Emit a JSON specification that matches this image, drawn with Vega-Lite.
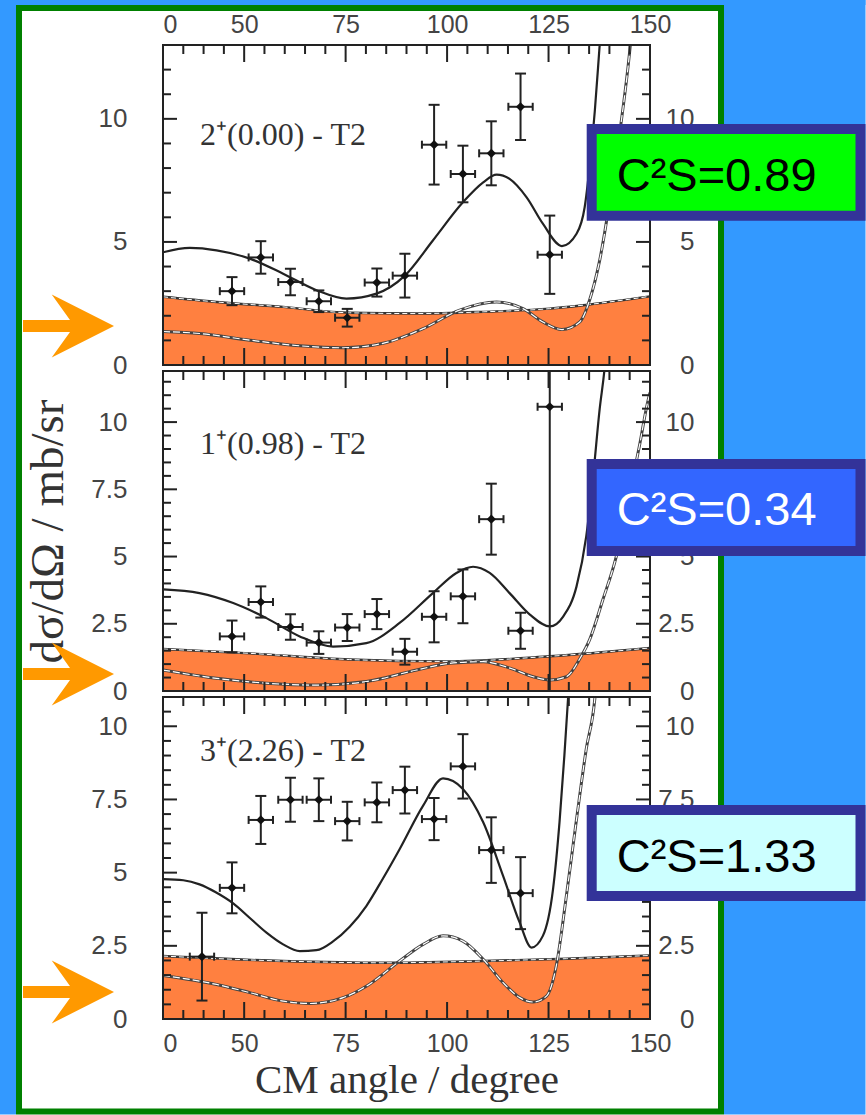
{
"$schema": "https://vega.github.io/schema/vega-lite/v6.json",
"padding": 0,
"autosize": {"type": "pad"},
"bounds": "flush",
"spacing": 6,
"config": {"background": "white", "view": {"stroke": null}, "axis": {"grid": false, "labelFont": "Liberation Sans", "labelColor": "#444", "tickColor": "#222", "domainColor": "#222", "titleFont": "Liberation Serif", "titleFontWeight": "normal", "titleColor": "#333"}, "rule": {"color": "#222", "strokeWidth": 2}},
"datasets": {
"xtM": [{"t":50},{"t":75},{"t":100},{"t":125}],
"xtm": [{"t":35},{"t":40},{"t":45},{"t":55},{"t":60},{"t":65},{"t":70},{"t":80},{"t":85},{"t":90},{"t":95},{"t":105},{"t":110},{"t":115},{"t":120},{"t":130},{"t":135},{"t":140},{"t":145}],
"yt1M": [{"t":5},{"t":10}],
"yt1m": [{"t":1},{"t":2},{"t":3},{"t":4},{"t":6},{"t":7},{"t":8},{"t":9},{"t":11},{"t":12}],
"yt2M": [{"t":2.5},{"t":5},{"t":7.5},{"t":10}],
"yt2m": [{"t":0.5},{"t":1},{"t":1.5},{"t":2},{"t":3},{"t":3.5},{"t":4},{"t":4.5},{"t":5.5},{"t":6},{"t":6.5},{"t":7},{"t":8},{"t":8.5},{"t":9},{"t":9.5},{"t":10.5},{"t":11},{"t":11.5}],
"yt3m": [{"t":0.5},{"t":1},{"t":1.5},{"t":2},{"t":3},{"t":3.5},{"t":4},{"t":4.5},{"t":5.5},{"t":6},{"t":6.5},{"t":7},{"t":8},{"t":8.5},{"t":9},{"t":9.5},{"t":10.5}],
"pts": [
{"p":1,"a":47.0,"v":3.00,"lo":2.43,"hi":3.57,"xlo":44.0,"xhi":50.0},
{"p":1,"a":54.1,"v":4.37,"lo":3.71,"hi":5.03,"xlo":51.1,"xhi":57.1},
{"p":1,"a":61.4,"v":3.37,"lo":2.83,"hi":3.91,"xlo":58.4,"xhi":64.4},
{"p":1,"a":68.4,"v":2.59,"lo":2.15,"hi":3.03,"xlo":65.4,"xhi":71.4},
{"p":1,"a":75.4,"v":1.92,"lo":1.56,"hi":2.28,"xlo":72.4,"xhi":78.4},
{"p":1,"a":82.7,"v":3.35,"lo":2.78,"hi":3.92,"xlo":79.7,"xhi":85.7},
{"p":1,"a":89.6,"v":3.63,"lo":2.74,"hi":4.52,"xlo":86.6,"xhi":92.6},
{"p":1,"a":96.8,"v":8.95,"lo":7.33,"hi":10.57,"xlo":93.8,"xhi":99.8},
{"p":1,"a":103.9,"v":7.76,"lo":6.61,"hi":8.91,"xlo":100.9,"xhi":106.9},
{"p":1,"a":110.9,"v":8.60,"lo":7.30,"hi":9.90,"xlo":107.9,"xhi":113.9},
{"p":1,"a":118.1,"v":10.49,"lo":9.14,"hi":11.84,"xlo":115.1,"xhi":121.1},
{"p":1,"a":125.3,"v":4.48,"lo":2.89,"hi":6.07,"xlo":122.3,"xhi":128.3},
{"p":2,"a":47.0,"v":2.03,"lo":1.44,"hi":2.62,"xlo":44.0,"xhi":50.0},
{"p":2,"a":54.1,"v":3.31,"lo":2.73,"hi":3.89,"xlo":51.1,"xhi":57.1},
{"p":2,"a":61.4,"v":2.38,"lo":1.91,"hi":2.85,"xlo":58.4,"xhi":64.4},
{"p":2,"a":68.4,"v":1.80,"lo":1.38,"hi":2.22,"xlo":65.4,"xhi":71.4},
{"p":2,"a":75.4,"v":2.36,"lo":1.86,"hi":2.86,"xlo":72.4,"xhi":78.4},
{"p":2,"a":82.7,"v":2.86,"lo":2.30,"hi":3.42,"xlo":79.7,"xhi":85.7},
{"p":2,"a":89.6,"v":1.46,"lo":0.98,"hi":1.94,"xlo":86.6,"xhi":92.6},
{"p":2,"a":96.8,"v":2.76,"lo":1.81,"hi":3.71,"xlo":93.8,"xhi":99.8},
{"p":2,"a":103.9,"v":3.52,"lo":2.52,"hi":4.52,"xlo":100.9,"xhi":106.9},
{"p":2,"a":110.9,"v":6.39,"lo":5.07,"hi":7.71,"xlo":107.9,"xhi":113.9},
{"p":2,"a":118.1,"v":2.24,"lo":1.57,"hi":2.91,"xlo":115.1,"xhi":121.1},
{"p":2,"a":125.3,"v":10.57,"lo":-1,"hi":14,"xlo":122.3,"xhi":128.3},
{"p":3,"a":39.6,"v":2.13,"lo":0.63,"hi":3.63,"xlo":36.6,"xhi":42.6},
{"p":3,"a":47.0,"v":4.48,"lo":3.61,"hi":5.35,"xlo":44.0,"xhi":50.0},
{"p":3,"a":54.1,"v":6.80,"lo":5.98,"hi":7.62,"xlo":51.1,"xhi":57.1},
{"p":3,"a":61.4,"v":7.49,"lo":6.74,"hi":8.24,"xlo":58.4,"xhi":64.4},
{"p":3,"a":68.4,"v":7.49,"lo":6.76,"hi":8.22,"xlo":65.4,"xhi":71.4},
{"p":3,"a":75.4,"v":6.76,"lo":6.10,"hi":7.42,"xlo":72.4,"xhi":78.4},
{"p":3,"a":82.7,"v":7.40,"lo":6.72,"hi":8.08,"xlo":79.7,"xhi":85.7},
{"p":3,"a":89.6,"v":7.82,"lo":7.02,"hi":8.62,"xlo":86.6,"xhi":92.6},
{"p":3,"a":96.8,"v":6.83,"lo":6.11,"hi":7.55,"xlo":93.8,"xhi":99.8},
{"p":3,"a":103.9,"v":8.63,"lo":7.53,"hi":9.73,"xlo":100.9,"xhi":106.9},
{"p":3,"a":110.9,"v":5.77,"lo":4.65,"hi":6.89,"xlo":107.9,"xhi":113.9},
{"p":3,"a":118.1,"v":4.30,"lo":3.07,"hi":5.53,"xlo":115.1,"xhi":121.1}
],
"curves": [
{"p":1,"c":"tot","a":30,"v":4.58},{"p":1,"c":"tot","a":36.6,"v":4.76},{"p":1,"c":"tot","a":43.2,"v":4.66},{"p":1,"c":"tot","a":51.4,"v":4.32},{"p":1,"c":"tot","a":59.6,"v":3.71},{"p":1,"c":"tot","a":67.8,"v":3.04},{"p":1,"c":"tot","a":75.2,"v":2.70},{"p":1,"c":"tot","a":82.6,"v":2.90},{"p":1,"c":"tot","a":89.6,"v":3.63},{"p":1,"c":"tot","a":96.5,"v":5.06},{"p":1,"c":"tot","a":103.9,"v":6.61},{"p":1,"c":"tot","a":108.9,"v":7.42},{"p":1,"c":"tot","a":112.2,"v":7.73},{"p":1,"c":"tot","a":115.4,"v":7.56},{"p":1,"c":"tot","a":119.6,"v":6.81},{"p":1,"c":"tot","a":123.6,"v":5.74},{"p":1,"c":"tot","a":128.3,"v":4.83},{"p":1,"c":"tot","a":131.9,"v":5.33},{"p":1,"c":"tot","a":133.9,"v":6.41},{"p":1,"c":"tot","a":135.1,"v":8.03},{"p":1,"c":"tot","a":136.4,"v":10.32},{"p":1,"c":"tot","a":137.6,"v":13.0},{"p":1,"c":"tot","a":138.5,"v":15.0},
{"p":1,"c":"band","a":30,"v":2.77},{"p":1,"c":"band","a":43.2,"v":2.56},{"p":1,"c":"band","a":59.6,"v":2.36},{"p":1,"c":"band","a":76,"v":2.12},{"p":1,"c":"band","a":92.5,"v":2.09},{"p":1,"c":"band","a":108.9,"v":2.16},{"p":1,"c":"band","a":125.3,"v":2.29},{"p":1,"c":"band","a":133.5,"v":2.43},{"p":1,"c":"band","a":150,"v":2.79},
{"p":1,"c":"comp","a":30,"v":1.36},{"p":1,"c":"comp","a":39,"v":1.28},{"p":1,"c":"comp","a":51.4,"v":1.01},{"p":1,"c":"comp","a":63.7,"v":0.78},{"p":1,"c":"comp","a":74.4,"v":0.70},{"p":1,"c":"comp","a":84.2,"v":0.88},{"p":1,"c":"comp","a":94.1,"v":1.48},{"p":1,"c":"comp","a":103.1,"v":2.23},{"p":1,"c":"comp","a":112.2,"v":2.56},{"p":1,"c":"comp","a":118.7,"v":2.29},{"p":1,"c":"comp","a":123.6,"v":1.75},{"p":1,"c":"comp","a":128.3,"v":1.44},{"p":1,"c":"comp","a":132.7,"v":1.75},{"p":1,"c":"comp","a":135.1,"v":2.63},{"p":1,"c":"comp","a":137.6,"v":4.25},{"p":1,"c":"comp","a":140.1,"v":6.68},{"p":1,"c":"comp","a":142.5,"v":9.38},{"p":1,"c":"comp","a":145,"v":12.75},{"p":1,"c":"comp","a":146,"v":14.5},
{"p":2,"c":"tot","a":30,"v":3.78},{"p":2,"c":"tot","a":39,"v":3.64},{"p":2,"c":"tot","a":47.3,"v":3.27},{"p":2,"c":"tot","a":55.5,"v":2.71},{"p":2,"c":"tot","a":63.7,"v":2.03},{"p":2,"c":"tot","a":71.9,"v":1.65},{"p":2,"c":"tot","a":80.1,"v":1.78},{"p":2,"c":"tot","a":88.3,"v":2.53},{"p":2,"c":"tot","a":96.5,"v":3.64},{"p":2,"c":"tot","a":102.3,"v":4.39},{"p":2,"c":"tot","a":106.4,"v":4.62},{"p":2,"c":"tot","a":110.5,"v":4.39},{"p":2,"c":"tot","a":115.4,"v":3.64},{"p":2,"c":"tot","a":120.4,"v":2.84},{"p":2,"c":"tot","a":125.3,"v":2.40},{"p":2,"c":"tot","a":128.6,"v":2.77},{"p":2,"c":"tot","a":131.9,"v":3.89},{"p":2,"c":"tot","a":134.3,"v":5.76},{"p":2,"c":"tot","a":136,"v":8.0},{"p":2,"c":"tot","a":137.6,"v":10.49},{"p":2,"c":"tot","a":138.8,"v":11.98},{"p":2,"c":"tot","a":139.5,"v":13.2},
{"p":2,"c":"band","a":30,"v":1.56},{"p":2,"c":"band","a":51.4,"v":1.40},{"p":2,"c":"band","a":76,"v":1.17},{"p":2,"c":"band","a":100,"v":1.10},{"p":2,"c":"band","a":125.3,"v":1.29},{"p":2,"c":"band","a":150,"v":1.60},
{"p":2,"c":"comp","a":30,"v":0.78},{"p":2,"c":"comp","a":43.2,"v":0.47},{"p":2,"c":"comp","a":55.5,"v":0.29},{"p":2,"c":"comp","a":67.8,"v":0.22},{"p":2,"c":"comp","a":80.1,"v":0.35},{"p":2,"c":"comp","a":92.5,"v":0.78},{"p":2,"c":"comp","a":100.7,"v":1.03},{"p":2,"c":"comp","a":108.9,"v":1.09},{"p":2,"c":"comp","a":115.5,"v":0.85},{"p":2,"c":"comp","a":121.2,"v":0.53},{"p":2,"c":"comp","a":125.3,"v":0.41},{"p":2,"c":"comp","a":129.4,"v":0.53},{"p":2,"c":"comp","a":132.7,"v":1.2},{"p":2,"c":"comp","a":135.1,"v":1.9},{"p":2,"c":"comp","a":138.4,"v":3.4},{"p":2,"c":"comp","a":141.7,"v":5.01},{"p":2,"c":"comp","a":145,"v":7.38},{"p":2,"c":"comp","a":147.4,"v":9.12},{"p":2,"c":"comp","a":149.4,"v":10.73},{"p":2,"c":"comp","a":150,"v":11.1},
{"p":3,"c":"tot","a":30,"v":4.78},{"p":3,"c":"tot","a":35,"v":4.74},{"p":3,"c":"tot","a":39,"v":4.6},{"p":3,"c":"tot","a":43,"v":4.33},{"p":3,"c":"tot","a":47.3,"v":3.95},{"p":3,"c":"tot","a":51.4,"v":3.45},{"p":3,"c":"tot","a":55.5,"v":2.95},{"p":3,"c":"tot","a":59.6,"v":2.55},{"p":3,"c":"tot","a":63.7,"v":2.32},{"p":3,"c":"tot","a":67.8,"v":2.35},{"p":3,"c":"tot","a":71.9,"v":2.65},{"p":3,"c":"tot","a":76,"v":3.15},{"p":3,"c":"tot","a":80.1,"v":3.86},{"p":3,"c":"tot","a":84.2,"v":4.8},{"p":3,"c":"tot","a":88.3,"v":5.80},{"p":3,"c":"tot","a":94.1,"v":7.29},{"p":3,"c":"tot","a":99,"v":8.22},{"p":3,"c":"tot","a":103.9,"v":7.86},{"p":3,"c":"tot","a":108.9,"v":6.72},{"p":3,"c":"tot","a":113.8,"v":4.89},{"p":3,"c":"tot","a":117.9,"v":3.29},{"p":3,"c":"tot","a":120.8,"v":2.44},{"p":3,"c":"tot","a":123.6,"v":2.84},{"p":3,"c":"tot","a":126.1,"v":4.43},{"p":3,"c":"tot","a":127.7,"v":6.72},{"p":3,"c":"tot","a":128.9,"v":9.0},{"p":3,"c":"tot","a":129.8,"v":10.94},{"p":3,"c":"tot","a":130.5,"v":12.5},
{"p":3,"c":"band","a":30,"v":2.15},{"p":3,"c":"band","a":59.6,"v":1.98},{"p":3,"c":"band","a":84.2,"v":1.92},{"p":3,"c":"band","a":108.9,"v":1.98},{"p":3,"c":"band","a":129.4,"v":2.06},{"p":3,"c":"band","a":150,"v":2.17},
{"p":3,"c":"comp","a":30,"v":1.49},{"p":3,"c":"comp","a":43.2,"v":1.18},{"p":3,"c":"comp","a":51.4,"v":0.90},{"p":3,"c":"comp","a":59.6,"v":0.61},{"p":3,"c":"comp","a":66.2,"v":0.53},{"p":3,"c":"comp","a":74.4,"v":0.73},{"p":3,"c":"comp","a":80.1,"v":1.12},{"p":3,"c":"comp","a":88.3,"v":1.98},{"p":3,"c":"comp","a":94.1,"v":2.55},{"p":3,"c":"comp","a":99,"v":2.84},{"p":3,"c":"comp","a":103.9,"v":2.66},{"p":3,"c":"comp","a":108.9,"v":2.04},{"p":3,"c":"comp","a":113.8,"v":1.24},{"p":3,"c":"comp","a":117.9,"v":0.73},{"p":3,"c":"comp","a":121.2,"v":0.58},{"p":3,"c":"comp","a":124.5,"v":0.78},{"p":3,"c":"comp","a":126.9,"v":1.81},{"p":3,"c":"comp","a":129.4,"v":4.21},{"p":3,"c":"comp","a":131.9,"v":6.83},{"p":3,"c":"comp","a":134.3,"v":9.23},{"p":3,"c":"comp","a":136.4,"v":10.94},{"p":3,"c":"comp","a":137.3,"v":12.5}
]
},
"vconcat": [
{
"width": 487, "height": 320,
"resolve": {"axis": {"x": "independent", "y": "independent"}},
"layer": [
{"data":{"values":[{}]},"mark":{"type":"rect","color":"#3399FF","clip":false},
 "encoding":{"x":{"datum":-10.164,"type":"quantitative","scale":{"domain":[30,150],"nice":false,"zero":false},"axis":null},"x2":{"datum":-6.222},"y":{"datum":14.828,"type":"quantitative","scale":{"domain":[0,13],"nice":false,"zero":false},"axis":null},"y2":{"datum":-30.448}}},
{"data":{"values":[{}]},"mark":{"type":"rect","color":"#3399FF","clip":false},
 "encoding":{"x":{"datum":-10.164,"type":"quantitative","scale":{"domain":[30,150],"nice":false,"zero":false},"axis":null},"x2":{"datum":203.101},"y":{"datum":14.828,"type":"quantitative","scale":{"domain":[0,13],"nice":false,"zero":false},"axis":null},"y2":{"datum":14.625}}},
{"data":{"values":[{}]},"mark":{"type":"rect","color":"#3399FF","clip":false},
 "encoding":{"x":{"datum":168.234,"type":"quantitative","scale":{"domain":[30,150],"nice":false,"zero":false},"axis":null},"x2":{"datum":203.101},"y":{"datum":14.828,"type":"quantitative","scale":{"domain":[0,13],"nice":false,"zero":false},"axis":null},"y2":{"datum":-30.448}}},
{"data":{"values":[{}]},"mark":{"type":"rect","fill":"white","fillOpacity":0,"stroke":"#008000","strokeWidth":6,"clip":false},
 "encoding":{"x":{"datum":-5.483,"type":"quantitative","scale":{"domain":[30,150],"nice":false,"zero":false},"axis":null},"x2":{"datum":167.495},"y":{"datum":14.503,"type":"quantitative","scale":{"domain":[0,13],"nice":false,"zero":false},"axis":null},"y2":{"datum":-30.327}}},
{"data":{"name":"curves"},"transform":[{"filter":"datum.p == 1 && datum.c == 'band'"}],
 "mark":{"type":"area","color":"#FF8040","clip":true,"interpolate":"monotone"},
 "encoding":{"x":{"field":"a","type":"quantitative","scale":{"domain":[30,150],"nice":false,"zero":false},
   "axis":{"orient":"top","values":[30,50,75,100,125,150],"ticks":false,"domain":false,"labelPadding":8,"labelFontSize":25,"labelFlush":false,"labelOverlap":false,"labelExpr":"datum.value == 30 ? '0' : datum.label","labelAlign":{"condition":{"test":"datum.value == 30","value":"left"},"value":"center"},"title":null,"zindex":0}},
  "y":{"field":"v","type":"quantitative","stack":null,"scale":{"domain":[0,13],"nice":false,"zero":false},
   "axis":{"orient":"left","values":[0,5,10],"ticks":false,"domain":false,"labelPadding":36,"labelFontSize":26,"labelFlush":false,"labelOverlap":false,"title":null,"zindex":0}}}},
{"data":{"name":"curves"},"transform":[{"filter":"datum.p == 1 && datum.c == 'band'"}],
 "mark":{"type":"line","color":"#333","strokeWidth":2.4,"clip":true,"interpolate":"monotone"},
 "encoding":{"x":{"field":"a","type":"quantitative","scale":{"domain":[30,150],"nice":false,"zero":false},"axis":null},
  "y":{"field":"v","type":"quantitative","scale":{"domain":[0,13],"nice":false,"zero":false},"axis":null}}},
{"data":{"name":"curves"},"transform":[{"filter":"datum.p == 1 && datum.c == 'band'"}],
 "mark":{"type":"line","color":"white","strokeWidth":1,"strokeDash":[5,3],"clip":true,"interpolate":"monotone"},
 "encoding":{"x":{"field":"a","type":"quantitative","scale":{"domain":[30,150],"nice":false,"zero":false},"axis":null},
  "y":{"field":"v","type":"quantitative","scale":{"domain":[0,13],"nice":false,"zero":false},"axis":null}}},
{"data":{"name":"curves"},"transform":[{"filter":"datum.p == 1 && datum.c == 'comp'"}],
 "mark":{"type":"line","color":"#444","strokeWidth":3,"clip":true,"interpolate":"monotone"},
 "encoding":{"x":{"field":"a","type":"quantitative","scale":{"domain":[30,150],"nice":false,"zero":false},"axis":null},
  "y":{"field":"v","type":"quantitative","scale":{"domain":[0,13],"nice":false,"zero":false},
   "axis":{"orient":"right","values":[0,5,10],"ticks":false,"domain":false,"labelPadding":44,"labelAlign":"right","labelFontSize":26,"labelFlush":false,"labelOverlap":false,"title":null,"zindex":0}}}},
{"data":{"name":"curves"},"transform":[{"filter":"datum.p == 1 && datum.c == 'comp'"}],
 "mark":{"type":"line","color":"white","strokeWidth":1.2,"strokeDash":[7,3],"clip":true,"interpolate":"monotone"},
 "encoding":{"x":{"field":"a","type":"quantitative","scale":{"domain":[30,150],"nice":false,"zero":false},"axis":null},
  "y":{"field":"v","type":"quantitative","scale":{"domain":[0,13],"nice":false,"zero":false},"axis":null}}},
{"data":{"name":"curves"},"transform":[{"filter":"datum.p == 1 && datum.c == 'tot'"}],
 "mark":{"type":"line","color":"#222","strokeWidth":2.2,"clip":true,"interpolate":"monotone"},
 "encoding":{"x":{"field":"a","type":"quantitative","scale":{"domain":[30,150],"nice":false,"zero":false},"axis":null},
  "y":{"field":"v","type":"quantitative","scale":{"domain":[0,13],"nice":false,"zero":false},"axis":null}}},
{"data":{"values":[{}]},"mark":{"type":"rect","fill":"white","fillOpacity":0,"stroke":"#222","strokeWidth":2,"clip":false},
 "encoding":{"x":{"datum":30,"type":"quantitative","scale":{"domain":[30,150],"nice":false,"zero":false},"axis":null},"x2":{"datum":150},"y":{"datum":0,"type":"quantitative","scale":{"domain":[0,13],"nice":false,"zero":false},"axis":null},"y2":{"datum":13}}},
{"data":{"name":"yt1M"},"mark":{"type":"rule","clip":true},"encoding":{"x":{"datum":30,"type":"quantitative","scale":{"domain":[30,150],"nice":false,"zero":false},"axis":null},"x2":{"datum":33.45},"y":{"field":"t","type":"quantitative","scale":{"domain":[0,13],"nice":false,"zero":false},"axis":null}}},
{"data":{"name":"yt1m"},"mark":{"type":"rule","clip":true},"encoding":{"x":{"datum":30,"type":"quantitative","scale":{"domain":[30,150],"nice":false,"zero":false},"axis":null},"x2":{"datum":31.97},"y":{"field":"t","type":"quantitative","scale":{"domain":[0,13],"nice":false,"zero":false},"axis":null}}},
{"data":{"name":"yt1M"},"mark":{"type":"rule","clip":true},"encoding":{"x":{"datum":150,"type":"quantitative","scale":{"domain":[30,150],"nice":false,"zero":false},"axis":null},"x2":{"datum":146.55},"y":{"field":"t","type":"quantitative","scale":{"domain":[0,13],"nice":false,"zero":false},"axis":null}}},
{"data":{"name":"yt1m"},"mark":{"type":"rule","clip":true},"encoding":{"x":{"datum":150,"type":"quantitative","scale":{"domain":[30,150],"nice":false,"zero":false},"axis":null},"x2":{"datum":148.03},"y":{"field":"t","type":"quantitative","scale":{"domain":[0,13],"nice":false,"zero":false},"axis":null}}},
{"data":{"name":"xtM"},"mark":{"type":"rule","clip":true},"encoding":{"x":{"field":"t","type":"quantitative","scale":{"domain":[30,150],"nice":false,"zero":false},"axis":null},"y":{"datum":13,"type":"quantitative","scale":{"domain":[0,13],"nice":false,"zero":false},"axis":null},"y2":{"datum":12.309}}},
{"data":{"name":"xtm"},"mark":{"type":"rule","clip":true},"encoding":{"x":{"field":"t","type":"quantitative","scale":{"domain":[30,150],"nice":false,"zero":false},"axis":null},"y":{"datum":13,"type":"quantitative","scale":{"domain":[0,13],"nice":false,"zero":false},"axis":null},"y2":{"datum":12.634}}},
{"data":{"name":"xtM"},"mark":{"type":"rule","clip":true},"encoding":{"x":{"field":"t","type":"quantitative","scale":{"domain":[30,150],"nice":false,"zero":false},"axis":null},"y":{"datum":0,"type":"quantitative","scale":{"domain":[0,13],"nice":false,"zero":false},"axis":null},"y2":{"datum":0.691}}},
{"data":{"name":"xtm"},"mark":{"type":"rule","clip":true},"encoding":{"x":{"field":"t","type":"quantitative","scale":{"domain":[30,150],"nice":false,"zero":false},"axis":null},"y":{"datum":0,"type":"quantitative","scale":{"domain":[0,13],"nice":false,"zero":false},"axis":null},"y2":{"datum":0.366}}},
{"data":{"name":"pts"},"transform":[{"filter":"datum.p == 1"}],
 "mark":{"type":"rule","color":"#222","strokeWidth":2,"clip":true},
 "encoding":{"x":{"field":"a","type":"quantitative","scale":{"domain":[30,150],"nice":false,"zero":false},"axis":null},"y":{"field":"lo","type":"quantitative","scale":{"domain":[0,13],"nice":false,"zero":false},"axis":null},"y2":{"field":"hi"}}},
{"data":{"name":"pts"},"transform":[{"filter":"datum.p == 1"}],
 "mark":{"type":"rule","color":"#222","strokeWidth":2,"clip":true},
 "encoding":{"x":{"field":"xlo","type":"quantitative","scale":{"domain":[30,150],"nice":false,"zero":false},"axis":null},"x2":{"field":"xhi"},"y":{"field":"v","type":"quantitative","scale":{"domain":[0,13],"nice":false,"zero":false},"axis":null}}},
{"data":{"name":"pts"},"transform":[{"filter":"datum.p == 1"},{"fold":["lo","hi"],"as":["k","cv"]}],
 "mark":{"type":"tick","orient":"horizontal","size":11,"thickness":2,"color":"#222","opacity":1,"clip":true},
 "encoding":{"x":{"field":"a","type":"quantitative","scale":{"domain":[30,150],"nice":false,"zero":false},"axis":null},"y":{"field":"cv","type":"quantitative","scale":{"domain":[0,13],"nice":false,"zero":false},"axis":null}}},
{"data":{"name":"pts"},"transform":[{"filter":"datum.p == 1"},{"fold":["xlo","xhi"],"as":["k","cx"]}],
 "mark":{"type":"tick","orient":"vertical","size":8,"thickness":2,"color":"#222","opacity":1,"clip":true},
 "encoding":{"x":{"field":"cx","type":"quantitative","scale":{"domain":[30,150],"nice":false,"zero":false},"axis":null},"y":{"field":"v","type":"quantitative","scale":{"domain":[0,13],"nice":false,"zero":false},"axis":null}}},
{"data":{"name":"pts"},"transform":[{"filter":"datum.p == 1"}],
 "mark":{"type":"point","shape":"diamond","filled":true,"size":85,"color":"#111","opacity":1,"clip":true},
 "encoding":{"x":{"field":"a","type":"quantitative","scale":{"domain":[30,150],"nice":false,"zero":false},"axis":null},"y":{"field":"v","type":"quantitative","scale":{"domain":[0,13],"nice":false,"zero":false},"axis":null}}},
{"data":{"values":[{}]},"mark":{"type":"text","font":"Liberation Serif","fontSize":32,"color":"#333","align":"left","baseline":"middle"},
 "encoding":{"x":{"datum":39.117,"type":"quantitative","scale":{"domain":[30,150],"nice":false,"zero":false},"axis":null},"y":{"datum":9.344,"type":"quantitative","scale":{"domain":[0,13],"nice":false,"zero":false},"axis":null},"text":{"value":"2⁺(0.00) - T2"}}},
{"data":{"values":[{}]},"mark":{"type":"point","shape":"M-1,-0.132L0.033,-0.132L-0.369,-0.692L1,0L-0.369,0.692L0.033,0.132L-1,0.132Z","size":8281,"filled":true,"color":"#FF9900","opacity":1,"strokeWidth":0,"clip":false},
 "encoding":{"x":{"datum":6.715,"type":"quantitative","scale":{"domain":[30,150],"nice":false,"zero":false},"axis":null},"y":{"datum":1.584,"type":"quantitative","scale":{"domain":[0,13],"nice":false,"zero":false},"axis":null}}},
{"data":{"values":[{}]},"mark":{"type":"rect","fill":"#00FF00","stroke":"#333399","strokeWidth":10,"clip":false},
 "encoding":{"x":{"datum":135.635,"type":"quantitative","scale":{"domain":[30,150],"nice":false,"zero":false},"axis":null},"x2":{"datum":201.869},"y":{"datum":9.5875,"type":"quantitative","scale":{"domain":[0,13],"nice":false,"zero":false},"axis":null},"y2":{"datum":6.0653}}},
{"data":{"values":[{}]},"mark":{"type":"text","font":"Liberation Sans","fontSize":47,"color":"#000","align":"left","baseline":"alphabetic","clip":false},
 "encoding":{"x":{"datum":141.795,"type":"quantitative","scale":{"domain":[30,150],"nice":false,"zero":false},"axis":null},"y":{"datum":7.081,"type":"quantitative","scale":{"domain":[0,13],"nice":false,"zero":false},"axis":null},"text":{"value":"C²S=0.89"}}}
]
},
{
"width": 487, "height": 320,
"resolve": {"axis": {"x": "independent", "y": "independent"}},
"layer": [
{"data":{"name":"curves"},"transform":[{"filter":"datum.p == 2 && datum.c == 'band'"}],
 "mark":{"type":"area","color":"#FF8040","clip":true,"interpolate":"monotone"},
 "encoding":{"x":{"field":"a","type":"quantitative","scale":{"domain":[30,150],"nice":false,"zero":false},"axis":null},
  "y":{"field":"v","type":"quantitative","stack":null,"scale":{"domain":[0,11.9],"nice":false,"zero":false},
   "axis":{"orient":"left","values":[0,2.5,5,7.5,10],"format":".1~f","ticks":false,"domain":false,"labelPadding":36,"labelFontSize":26,"labelFlush":false,"labelOverlap":false,"title":"dσ/dΩ / mb/sr","titleFontSize":47,"titlePadding":18,"zindex":0}}}},
{"data":{"name":"curves"},"transform":[{"filter":"datum.p == 2 && datum.c == 'band'"}],
 "mark":{"type":"line","color":"#333","strokeWidth":2.4,"clip":true,"interpolate":"monotone"},
 "encoding":{"x":{"field":"a","type":"quantitative","scale":{"domain":[30,150],"nice":false,"zero":false},"axis":null},
  "y":{"field":"v","type":"quantitative","scale":{"domain":[0,11.9],"nice":false,"zero":false},"axis":null}}},
{"data":{"name":"curves"},"transform":[{"filter":"datum.p == 2 && datum.c == 'band'"}],
 "mark":{"type":"line","color":"white","strokeWidth":1,"strokeDash":[5,3],"clip":true,"interpolate":"monotone"},
 "encoding":{"x":{"field":"a","type":"quantitative","scale":{"domain":[30,150],"nice":false,"zero":false},"axis":null},
  "y":{"field":"v","type":"quantitative","scale":{"domain":[0,11.9],"nice":false,"zero":false},"axis":null}}},
{"data":{"name":"curves"},"transform":[{"filter":"datum.p == 2 && datum.c == 'comp'"}],
 "mark":{"type":"line","color":"#444","strokeWidth":3,"clip":true,"interpolate":"monotone"},
 "encoding":{"x":{"field":"a","type":"quantitative","scale":{"domain":[30,150],"nice":false,"zero":false},"axis":null},
  "y":{"field":"v","type":"quantitative","scale":{"domain":[0,11.9],"nice":false,"zero":false},
   "axis":{"orient":"right","values":[0,2.5,5,7.5,10],"format":".1~f","ticks":false,"domain":false,"labelPadding":44,"labelAlign":"right","labelFontSize":26,"labelFlush":false,"labelOverlap":false,"title":null,"zindex":0}}}},
{"data":{"name":"curves"},"transform":[{"filter":"datum.p == 2 && datum.c == 'comp'"}],
 "mark":{"type":"line","color":"white","strokeWidth":1.2,"strokeDash":[7,3],"clip":true,"interpolate":"monotone"},
 "encoding":{"x":{"field":"a","type":"quantitative","scale":{"domain":[30,150],"nice":false,"zero":false},"axis":null},
  "y":{"field":"v","type":"quantitative","scale":{"domain":[0,11.9],"nice":false,"zero":false},"axis":null}}},
{"data":{"name":"curves"},"transform":[{"filter":"datum.p == 2 && datum.c == 'tot'"}],
 "mark":{"type":"line","color":"#222","strokeWidth":2.2,"clip":true,"interpolate":"monotone"},
 "encoding":{"x":{"field":"a","type":"quantitative","scale":{"domain":[30,150],"nice":false,"zero":false},"axis":null},
  "y":{"field":"v","type":"quantitative","scale":{"domain":[0,11.9],"nice":false,"zero":false},"axis":null}}},
{"data":{"values":[{}]},"mark":{"type":"rect","fill":"white","fillOpacity":0,"stroke":"#222","strokeWidth":2,"clip":false},
 "encoding":{"x":{"datum":30,"type":"quantitative","scale":{"domain":[30,150],"nice":false,"zero":false},"axis":null},"x2":{"datum":150},"y":{"datum":0,"type":"quantitative","scale":{"domain":[0,11.9],"nice":false,"zero":false},"axis":null},"y2":{"datum":11.9}}},
{"data":{"name":"yt2M"},"mark":{"type":"rule","clip":true},"encoding":{"x":{"datum":30,"type":"quantitative","scale":{"domain":[30,150],"nice":false,"zero":false},"axis":null},"x2":{"datum":33.45},"y":{"field":"t","type":"quantitative","scale":{"domain":[0,11.9],"nice":false,"zero":false},"axis":null}}},
{"data":{"name":"yt2m"},"mark":{"type":"rule","clip":true},"encoding":{"x":{"datum":30,"type":"quantitative","scale":{"domain":[30,150],"nice":false,"zero":false},"axis":null},"x2":{"datum":31.97},"y":{"field":"t","type":"quantitative","scale":{"domain":[0,11.9],"nice":false,"zero":false},"axis":null}}},
{"data":{"name":"yt2M"},"mark":{"type":"rule","clip":true},"encoding":{"x":{"datum":150,"type":"quantitative","scale":{"domain":[30,150],"nice":false,"zero":false},"axis":null},"x2":{"datum":146.55},"y":{"field":"t","type":"quantitative","scale":{"domain":[0,11.9],"nice":false,"zero":false},"axis":null}}},
{"data":{"name":"yt2m"},"mark":{"type":"rule","clip":true},"encoding":{"x":{"datum":150,"type":"quantitative","scale":{"domain":[30,150],"nice":false,"zero":false},"axis":null},"x2":{"datum":148.03},"y":{"field":"t","type":"quantitative","scale":{"domain":[0,11.9],"nice":false,"zero":false},"axis":null}}},
{"data":{"name":"xtM"},"mark":{"type":"rule","clip":true},"encoding":{"x":{"field":"t","type":"quantitative","scale":{"domain":[30,150],"nice":false,"zero":false},"axis":null},"y":{"datum":11.9,"type":"quantitative","scale":{"domain":[0,11.9],"nice":false,"zero":false},"axis":null},"y2":{"datum":11.268}}},
{"data":{"name":"xtm"},"mark":{"type":"rule","clip":true},"encoding":{"x":{"field":"t","type":"quantitative","scale":{"domain":[30,150],"nice":false,"zero":false},"axis":null},"y":{"datum":11.9,"type":"quantitative","scale":{"domain":[0,11.9],"nice":false,"zero":false},"axis":null},"y2":{"datum":11.565}}},
{"data":{"name":"xtM"},"mark":{"type":"rule","clip":true},"encoding":{"x":{"field":"t","type":"quantitative","scale":{"domain":[30,150],"nice":false,"zero":false},"axis":null},"y":{"datum":0,"type":"quantitative","scale":{"domain":[0,11.9],"nice":false,"zero":false},"axis":null},"y2":{"datum":0.632}}},
{"data":{"name":"xtm"},"mark":{"type":"rule","clip":true},"encoding":{"x":{"field":"t","type":"quantitative","scale":{"domain":[30,150],"nice":false,"zero":false},"axis":null},"y":{"datum":0,"type":"quantitative","scale":{"domain":[0,11.9],"nice":false,"zero":false},"axis":null},"y2":{"datum":0.335}}},
{"data":{"name":"pts"},"transform":[{"filter":"datum.p == 2"}],
 "mark":{"type":"rule","color":"#222","strokeWidth":2,"clip":true},
 "encoding":{"x":{"field":"a","type":"quantitative","scale":{"domain":[30,150],"nice":false,"zero":false},"axis":null},"y":{"field":"lo","type":"quantitative","scale":{"domain":[0,11.9],"nice":false,"zero":false},"axis":null},"y2":{"field":"hi"}}},
{"data":{"name":"pts"},"transform":[{"filter":"datum.p == 2"}],
 "mark":{"type":"rule","color":"#222","strokeWidth":2,"clip":true},
 "encoding":{"x":{"field":"xlo","type":"quantitative","scale":{"domain":[30,150],"nice":false,"zero":false},"axis":null},"x2":{"field":"xhi"},"y":{"field":"v","type":"quantitative","scale":{"domain":[0,11.9],"nice":false,"zero":false},"axis":null}}},
{"data":{"name":"pts"},"transform":[{"filter":"datum.p == 2"},{"fold":["lo","hi"],"as":["k","cv"]}],
 "mark":{"type":"tick","orient":"horizontal","size":11,"thickness":2,"color":"#222","opacity":1,"clip":true},
 "encoding":{"x":{"field":"a","type":"quantitative","scale":{"domain":[30,150],"nice":false,"zero":false},"axis":null},"y":{"field":"cv","type":"quantitative","scale":{"domain":[0,11.9],"nice":false,"zero":false},"axis":null}}},
{"data":{"name":"pts"},"transform":[{"filter":"datum.p == 2"},{"fold":["xlo","xhi"],"as":["k","cx"]}],
 "mark":{"type":"tick","orient":"vertical","size":8,"thickness":2,"color":"#222","opacity":1,"clip":true},
 "encoding":{"x":{"field":"cx","type":"quantitative","scale":{"domain":[30,150],"nice":false,"zero":false},"axis":null},"y":{"field":"v","type":"quantitative","scale":{"domain":[0,11.9],"nice":false,"zero":false},"axis":null}}},
{"data":{"name":"pts"},"transform":[{"filter":"datum.p == 2"}],
 "mark":{"type":"point","shape":"diamond","filled":true,"size":85,"color":"#111","opacity":1,"clip":true},
 "encoding":{"x":{"field":"a","type":"quantitative","scale":{"domain":[30,150],"nice":false,"zero":false},"axis":null},"y":{"field":"v","type":"quantitative","scale":{"domain":[0,11.9],"nice":false,"zero":false},"axis":null}}},
{"data":{"values":[{}]},"mark":{"type":"text","font":"Liberation Serif","fontSize":32,"color":"#333","align":"left","baseline":"middle"},
 "encoding":{"x":{"datum":39.117,"type":"quantitative","scale":{"domain":[30,150],"nice":false,"zero":false},"axis":null},"y":{"datum":9.185,"type":"quantitative","scale":{"domain":[0,11.9],"nice":false,"zero":false},"axis":null},"text":{"value":"1⁺(0.98) - T2"}}},
{"data":{"values":[{}]},"mark":{"type":"point","shape":"M-1,-0.132L0.033,-0.132L-0.369,-0.692L1,0L-0.369,0.692L0.033,0.132L-1,0.132Z","size":8281,"filled":true,"color":"#FF9900","opacity":1,"strokeWidth":0,"clip":false},
 "encoding":{"x":{"datum":6.715,"type":"quantitative","scale":{"domain":[30,150],"nice":false,"zero":false},"axis":null},"y":{"datum":0.632,"type":"quantitative","scale":{"domain":[0,11.9],"nice":false,"zero":false},"axis":null}}},
{"data":{"values":[{}]},"mark":{"type":"rect","fill":"#3366FF","stroke":"#333399","strokeWidth":10,"clip":false},
 "encoding":{"x":{"datum":135.635,"type":"quantitative","scale":{"domain":[30,150],"nice":false,"zero":false},"axis":null},"x2":{"datum":201.869},"y":{"datum":8.4415,"type":"quantitative","scale":{"domain":[0,11.9],"nice":false,"zero":false},"axis":null},"y2":{"datum":5.2062}}},
{"data":{"values":[{}]},"mark":{"type":"text","font":"Liberation Sans","fontSize":47,"color":"#FFFFFF","align":"left","baseline":"alphabetic","clip":false},
 "encoding":{"x":{"datum":141.795,"type":"quantitative","scale":{"domain":[30,150],"nice":false,"zero":false},"axis":null},"y":{"datum":6.173,"type":"quantitative","scale":{"domain":[0,11.9],"nice":false,"zero":false},"axis":null},"text":{"value":"C²S=0.34"}}}
]
},
{
"width": 487, "height": 322,
"resolve": {"axis": {"x": "independent", "y": "independent"}},
"layer": [
{"data":{"name":"curves"},"transform":[{"filter":"datum.p == 3 && datum.c == 'band'"}],
 "mark":{"type":"area","color":"#FF8040","clip":true,"interpolate":"monotone"},
 "encoding":{"x":{"field":"a","type":"quantitative","scale":{"domain":[30,150],"nice":false,"zero":false},
   "axis":{"orient":"bottom","values":[30,50,75,100,125,150],"ticks":false,"domain":false,"labelPadding":12,"labelFontSize":25,"labelFlush":false,"labelOverlap":false,"labelExpr":"datum.value == 30 ? '0' : datum.label","labelAlign":{"condition":{"test":"datum.value == 30","value":"left"},"value":"center"},"title":"CM angle / degree","titleFontSize":41,"titlePadding":4,"zindex":0}},
  "y":{"field":"v","type":"quantitative","stack":null,"scale":{"domain":[0,11],"nice":false,"zero":false},
   "axis":{"orient":"left","values":[0,2.5,5,7.5,10],"format":".1~f","ticks":false,"domain":false,"labelPadding":36,"labelFontSize":26,"labelFlush":false,"labelOverlap":false,"title":null,"zindex":0}}}},
{"data":{"name":"curves"},"transform":[{"filter":"datum.p == 3 && datum.c == 'band'"}],
 "mark":{"type":"line","color":"#333","strokeWidth":2.4,"clip":true,"interpolate":"monotone"},
 "encoding":{"x":{"field":"a","type":"quantitative","scale":{"domain":[30,150],"nice":false,"zero":false},"axis":null},
  "y":{"field":"v","type":"quantitative","scale":{"domain":[0,11],"nice":false,"zero":false},"axis":null}}},
{"data":{"name":"curves"},"transform":[{"filter":"datum.p == 3 && datum.c == 'band'"}],
 "mark":{"type":"line","color":"white","strokeWidth":1,"strokeDash":[5,3],"clip":true,"interpolate":"monotone"},
 "encoding":{"x":{"field":"a","type":"quantitative","scale":{"domain":[30,150],"nice":false,"zero":false},"axis":null},
  "y":{"field":"v","type":"quantitative","scale":{"domain":[0,11],"nice":false,"zero":false},"axis":null}}},
{"data":{"name":"curves"},"transform":[{"filter":"datum.p == 3 && datum.c == 'comp'"}],
 "mark":{"type":"line","color":"#444","strokeWidth":3,"clip":true,"interpolate":"monotone"},
 "encoding":{"x":{"field":"a","type":"quantitative","scale":{"domain":[30,150],"nice":false,"zero":false},"axis":null},
  "y":{"field":"v","type":"quantitative","scale":{"domain":[0,11],"nice":false,"zero":false},
   "axis":{"orient":"right","values":[0,2.5,5,7.5,10],"format":".1~f","ticks":false,"domain":false,"labelPadding":44,"labelAlign":"right","labelFontSize":26,"labelFlush":false,"labelOverlap":false,"title":null,"zindex":0}}}},
{"data":{"name":"curves"},"transform":[{"filter":"datum.p == 3 && datum.c == 'comp'"}],
 "mark":{"type":"line","color":"white","strokeWidth":1.2,"strokeDash":[7,3],"clip":true,"interpolate":"monotone"},
 "encoding":{"x":{"field":"a","type":"quantitative","scale":{"domain":[30,150],"nice":false,"zero":false},"axis":null},
  "y":{"field":"v","type":"quantitative","scale":{"domain":[0,11],"nice":false,"zero":false},"axis":null}}},
{"data":{"name":"curves"},"transform":[{"filter":"datum.p == 3 && datum.c == 'tot'"}],
 "mark":{"type":"line","color":"#222","strokeWidth":2.2,"clip":true,"interpolate":"monotone"},
 "encoding":{"x":{"field":"a","type":"quantitative","scale":{"domain":[30,150],"nice":false,"zero":false},"axis":null},
  "y":{"field":"v","type":"quantitative","scale":{"domain":[0,11],"nice":false,"zero":false},"axis":null}}},
{"data":{"values":[{}]},"mark":{"type":"rect","fill":"white","fillOpacity":0,"stroke":"#222","strokeWidth":2,"clip":false},
 "encoding":{"x":{"datum":30,"type":"quantitative","scale":{"domain":[30,150],"nice":false,"zero":false},"axis":null},"x2":{"datum":150},"y":{"datum":0,"type":"quantitative","scale":{"domain":[0,11],"nice":false,"zero":false},"axis":null},"y2":{"datum":11}}},
{"data":{"name":"yt2M"},"mark":{"type":"rule","clip":true},"encoding":{"x":{"datum":30,"type":"quantitative","scale":{"domain":[30,150],"nice":false,"zero":false},"axis":null},"x2":{"datum":33.45},"y":{"field":"t","type":"quantitative","scale":{"domain":[0,11],"nice":false,"zero":false},"axis":null}}},
{"data":{"name":"yt3m"},"mark":{"type":"rule","clip":true},"encoding":{"x":{"datum":30,"type":"quantitative","scale":{"domain":[30,150],"nice":false,"zero":false},"axis":null},"x2":{"datum":31.97},"y":{"field":"t","type":"quantitative","scale":{"domain":[0,11],"nice":false,"zero":false},"axis":null}}},
{"data":{"name":"yt2M"},"mark":{"type":"rule","clip":true},"encoding":{"x":{"datum":150,"type":"quantitative","scale":{"domain":[30,150],"nice":false,"zero":false},"axis":null},"x2":{"datum":146.55},"y":{"field":"t","type":"quantitative","scale":{"domain":[0,11],"nice":false,"zero":false},"axis":null}}},
{"data":{"name":"yt3m"},"mark":{"type":"rule","clip":true},"encoding":{"x":{"datum":150,"type":"quantitative","scale":{"domain":[30,150],"nice":false,"zero":false},"axis":null},"x2":{"datum":148.03},"y":{"field":"t","type":"quantitative","scale":{"domain":[0,11],"nice":false,"zero":false},"axis":null}}},
{"data":{"name":"xtM"},"mark":{"type":"rule","clip":true},"encoding":{"x":{"field":"t","type":"quantitative","scale":{"domain":[30,150],"nice":false,"zero":false},"axis":null},"y":{"datum":11,"type":"quantitative","scale":{"domain":[0,11],"nice":false,"zero":false},"axis":null},"y2":{"datum":10.419}}},
{"data":{"name":"xtm"},"mark":{"type":"rule","clip":true},"encoding":{"x":{"field":"t","type":"quantitative","scale":{"domain":[30,150],"nice":false,"zero":false},"axis":null},"y":{"datum":11,"type":"quantitative","scale":{"domain":[0,11],"nice":false,"zero":false},"axis":null},"y2":{"datum":10.693}}},
{"data":{"name":"xtM"},"mark":{"type":"rule","clip":true},"encoding":{"x":{"field":"t","type":"quantitative","scale":{"domain":[30,150],"nice":false,"zero":false},"axis":null},"y":{"datum":0,"type":"quantitative","scale":{"domain":[0,11],"nice":false,"zero":false},"axis":null},"y2":{"datum":0.581}}},
{"data":{"name":"xtm"},"mark":{"type":"rule","clip":true},"encoding":{"x":{"field":"t","type":"quantitative","scale":{"domain":[30,150],"nice":false,"zero":false},"axis":null},"y":{"datum":0,"type":"quantitative","scale":{"domain":[0,11],"nice":false,"zero":false},"axis":null},"y2":{"datum":0.307}}},
{"data":{"name":"pts"},"transform":[{"filter":"datum.p == 3"}],
 "mark":{"type":"rule","color":"#222","strokeWidth":2,"clip":true},
 "encoding":{"x":{"field":"a","type":"quantitative","scale":{"domain":[30,150],"nice":false,"zero":false},"axis":null},"y":{"field":"lo","type":"quantitative","scale":{"domain":[0,11],"nice":false,"zero":false},"axis":null},"y2":{"field":"hi"}}},
{"data":{"name":"pts"},"transform":[{"filter":"datum.p == 3"}],
 "mark":{"type":"rule","color":"#222","strokeWidth":2,"clip":true},
 "encoding":{"x":{"field":"xlo","type":"quantitative","scale":{"domain":[30,150],"nice":false,"zero":false},"axis":null},"x2":{"field":"xhi"},"y":{"field":"v","type":"quantitative","scale":{"domain":[0,11],"nice":false,"zero":false},"axis":null}}},
{"data":{"name":"pts"},"transform":[{"filter":"datum.p == 3"},{"fold":["lo","hi"],"as":["k","cv"]}],
 "mark":{"type":"tick","orient":"horizontal","size":11,"thickness":2,"color":"#222","opacity":1,"clip":true},
 "encoding":{"x":{"field":"a","type":"quantitative","scale":{"domain":[30,150],"nice":false,"zero":false},"axis":null},"y":{"field":"cv","type":"quantitative","scale":{"domain":[0,11],"nice":false,"zero":false},"axis":null}}},
{"data":{"name":"pts"},"transform":[{"filter":"datum.p == 3"},{"fold":["xlo","xhi"],"as":["k","cx"]}],
 "mark":{"type":"tick","orient":"vertical","size":8,"thickness":2,"color":"#222","opacity":1,"clip":true},
 "encoding":{"x":{"field":"cx","type":"quantitative","scale":{"domain":[30,150],"nice":false,"zero":false},"axis":null},"y":{"field":"v","type":"quantitative","scale":{"domain":[0,11],"nice":false,"zero":false},"axis":null}}},
{"data":{"name":"pts"},"transform":[{"filter":"datum.p == 3"}],
 "mark":{"type":"point","shape":"diamond","filled":true,"size":85,"color":"#111","opacity":1,"clip":true},
 "encoding":{"x":{"field":"a","type":"quantitative","scale":{"domain":[30,150],"nice":false,"zero":false},"axis":null},"y":{"field":"v","type":"quantitative","scale":{"domain":[0,11],"nice":false,"zero":false},"axis":null}}},
{"data":{"values":[{}]},"mark":{"type":"text","font":"Liberation Serif","fontSize":32,"color":"#333","align":"left","baseline":"middle"},
 "encoding":{"x":{"datum":39.117,"type":"quantitative","scale":{"domain":[30,150],"nice":false,"zero":false},"axis":null},"y":{"datum":9.166,"type":"quantitative","scale":{"domain":[0,11],"nice":false,"zero":false},"axis":null},"text":{"value":"3⁺(2.26) - T2"}}},
{"data":{"values":[{}]},"mark":{"type":"point","shape":"M-1,-0.132L0.033,-0.132L-0.369,-0.692L1,0L-0.369,0.692L0.033,0.132L-1,0.132Z","size":8281,"filled":true,"color":"#FF9900","opacity":1,"strokeWidth":0,"clip":false},
 "encoding":{"x":{"datum":6.715,"type":"quantitative","scale":{"domain":[30,150],"nice":false,"zero":false},"axis":null},"y":{"datum":0.922,"type":"quantitative","scale":{"domain":[0,11],"nice":false,"zero":false},"axis":null}}},
{"data":{"values":[{}]},"mark":{"type":"rect","fill":"#CCFFFF","stroke":"#333399","strokeWidth":10,"clip":false},
 "encoding":{"x":{"datum":135.635,"type":"quantitative","scale":{"domain":[30,150],"nice":false,"zero":false},"axis":null},"x2":{"datum":201.869},"y":{"datum":7.140,"type":"quantitative","scale":{"domain":[0,11],"nice":false,"zero":false},"axis":null},"y2":{"datum":4.202}}},
{"data":{"values":[{}]},"mark":{"type":"text","font":"Liberation Sans","fontSize":47,"color":"#000","align":"left","baseline":"alphabetic","clip":false},
 "encoding":{"x":{"datum":141.795,"type":"quantitative","scale":{"domain":[30,150],"nice":false,"zero":false},"axis":null},"y":{"datum":5.032,"type":"quantitative","scale":{"domain":[0,11],"nice":false,"zero":false},"axis":null},"text":{"value":"C²S=1.33"}}}
]
}
]
}
